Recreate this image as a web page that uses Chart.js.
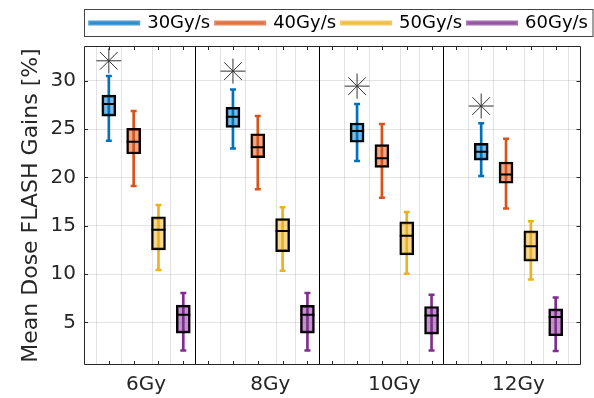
<!DOCTYPE html>
<html>
<head>
<meta charset="utf-8">
<script src="https://cdn.jsdelivr.net/npm/chart.js@4.4.1/dist/chart.umd.min.js"></script>
<style>
  html, body { margin: 0; padding: 0; background: #ffffff; }
  #wrap { width: 594px; height: 398px; position: relative; }
</style>
</head>
<body>
<div id="wrap"><canvas id="c" width="594" height="398"></canvas></div>
<script>
// ---------------- data ----------------
const categories = ['6Gy', '8Gy', '10Gy', '12Gy'];
const seriesNames = ['30Gy/s', '40Gy/s', '50Gy/s', '60Gy/s'];

// per category: [lower whisker, Q1, median, Q3, upper whisker]
const stats30 = [[23.8, 26.35, 27.6, 28.52, 30.49], [23.0, 25.18, 26.28, 27.25, 29.11], [21.7, 23.64, 24.8, 25.63, 27.6], [20.15, 21.8, 22.67, 23.53, 25.6]];
const stats40 = [[19.12, 22.43, 23.7, 25.08, 26.87], [18.78, 22.05, 23.12, 24.52, 26.35], [17.9, 21.05, 21.98, 23.4, 25.53], [16.78, 19.4, 20.3, 21.6, 24.0]];
const stats50 = [[10.44, 12.51, 14.58, 15.92, 17.16], [10.34, 12.33, 14.47, 15.74, 16.92], [10.03, 12.0, 13.96, 15.4, 16.44], [9.44, 11.34, 12.89, 14.47, 15.47]];
const stats60 = [[2.1, 3.9, 5.8, 6.8, 8.04], [2.1, 3.9, 5.8, 6.76, 8.04], [2.1, 3.8, 5.72, 6.65, 7.86], [2.05, 3.63, 5.56, 6.41, 7.58]];
// outliers (30Gy/s only), one per category
const outliers30 = [32.07, 31.0, 29.45, 27.39];

const yTickValues = [5, 10, 15, 20, 25, 30];

// ---------------- styling ----------------
const seriesStats = [stats30, stats40, stats50, stats60];
const lineColors = ['rgb(0,114,189)', 'rgb(217,83,25)', 'rgb(237,177,32)', 'rgb(126,47,142)'];
const fillColors = ['rgba(0,114,189,0.5)', 'rgba(217,83,25,0.5)', 'rgba(237,177,32,0.5)', 'rgba(126,47,142,0.5)'];
const legendColors = ['rgba(0,114,189,0.7)', 'rgba(217,83,25,0.7)', 'rgba(237,177,32,0.7)', 'rgba(126,47,142,0.7)'];
const groupSize = seriesNames.length + 1;   // 4 boxes + separator slot
const posOf = (ci, si) => ci * groupSize + si + 1;
const labelPos = categories.map((c, ci) => ci * groupSize + (seriesNames.length + 1) / 2);
const xMax = categories.length * groupSize;
const axisColor = '#262626';
const FONT = "'DejaVu Sans', sans-serif";

const datasets = [];
// top layer: outliers, medians, caps
datasets.push({
  type: 'scatter', label: 'outliers', showLine: false,
  data: outliers30.map((v, ci) => ({x: posOf(ci, 0), y: v})),
  pointStyle: 'star', radius: 12.5, borderColor: '#333333', borderWidth: 1, backgroundColor: '#333333'
});
seriesStats.forEach((st, si) => {
  datasets.push({
    type: 'scatter', label: 'med' + si, showLine: false,
    data: st.map((s, ci) => ({x: posOf(ci, si), y: s[2]})),
    pointStyle: 'line', radius: 7, borderColor: '#000000', borderWidth: 2
  });
  datasets.push({
    type: 'scatter', label: 'caps' + si, showLine: false,
    data: st.flatMap((s, ci) => [{x: posOf(ci, si), y: s[0]}, {x: posOf(ci, si), y: s[4]}]),
    pointStyle: 'line', radius: 3, borderColor: lineColors[si], borderWidth: 2.5
  });
});
// boxes
seriesStats.forEach((st, si) => {
  datasets.push({
    type: 'bar', label: 'box' + si, grouped: false,
    data: st.map((s, ci) => ({x: posOf(ci, si), y: [s[1], s[3]]})),
    backgroundColor: fillColors[si], borderColor: '#000000', borderWidth: 2,
    borderSkipped: false, barThickness: 14
  });
});
// whiskers
seriesStats.forEach((st, si) => {
  datasets.push({
    type: 'bar', label: 'whisk' + si, grouped: false,
    data: st.map((s, ci) => ({x: posOf(ci, si), y: [s[0], s[4]]})),
    backgroundColor: lineColors[si], borderWidth: 0, barThickness: 2
  });
});

const framePlugin = {
  id: 'frame',
  afterDraw(chart) {
    const ctx = chart.ctx, a = chart.chartArea;
    const xs = chart.scales.x, ys = chart.scales.y;
    ctx.save();
    ctx.strokeStyle = axisColor;
    ctx.lineWidth = 1;
    ctx.beginPath();
    ctx.rect(Math.round(a.left) + 0.5, Math.round(a.top) + 0.5, Math.round(a.right - a.left) - 1, Math.round(a.bottom - a.top) - 1);
    ctx.stroke();
    // inward ticks
    const tl = 4;
    ctx.beginPath();
    for (let v = 1; v < xMax; v++) {
      const px = Math.round(xs.getPixelForValue(v)) + 0.5;
      ctx.moveTo(px, a.bottom); ctx.lineTo(px, a.bottom - tl);
      ctx.moveTo(px, a.top); ctx.lineTo(px, a.top + tl);
    }
    yTickValues.forEach(v => {
      const py = Math.round(ys.getPixelForValue(v)) + 0.5;
      ctx.moveTo(a.left, py); ctx.lineTo(a.left + tl, py);
      ctx.moveTo(a.right, py); ctx.lineTo(a.right - tl, py);
    });
    ctx.stroke();
    // legend frame
    const hb = chart.legend.legendHitBoxes;
    if (hb && hb.length) {
      const l = Math.min(...hb.map(h => h.left)) - 6;
      const t = Math.min(...hb.map(h => h.top)) - 5;
      const b = Math.max(...hb.map(h => h.top + h.height)) + 4;
      ctx.strokeStyle = '#444444';
      ctx.strokeRect(Math.round(l) + 0.5, Math.round(t) + 0.5, chart.width - 1 - Math.round(l) - 0.5, Math.round(b - t));
    }
    ctx.restore();
  }
};

new Chart(document.getElementById('c'), {
  type: 'bar',
  data: { datasets },
  plugins: [framePlugin],
  options: {
    responsive: false, animation: false, events: [],
    layout: { padding: { left: 14, right: 0, top: 8, bottom: 0 } },
    plugins: {
      tooltip: { enabled: false },
      legend: {
        position: 'top', align: 'end',
        labels: {
          boxWidth: 48, boxHeight: 1, padding: 6, color: '#000000',
          font: { family: FONT, size: 18 },
          generateLabels: () => seriesNames.map((n, i) => ({
            text: n, fillStyle: legendColors[i], strokeStyle: legendColors[i], lineWidth: 4, hidden: false, datasetIndex: i
          }))
        }
      }
    },
    scales: {
      x: {
        type: 'linear', min: 0, max: xMax, offset: false,
        afterBuildTicks: (s) => {
          const vals = [];
          for (let v = 0; v <= xMax; v++) vals.push(v);
          labelPos.forEach(v => vals.push(v));
          vals.sort((p, q) => p - q);
          s.ticks = vals.map(v => ({value: v}));
        },
        afterFit: (s) => { s.height = 33; },
        ticks: {
          autoSkip: false, maxRotation: 0, padding: 8, color: axisColor,
          font: { family: FONT, size: 20 },
          callback: (v) => { const i = labelPos.indexOf(v); return i >= 0 ? categories[i] : ''; }
        },
        grid: {
          drawTicks: false,
          color: (c) => {
            const v = c.tick ? c.tick.value : 0;
            if (!Number.isInteger(v)) return 'rgba(0,0,0,0)';
            if (v > 0 && v < xMax && v % groupSize === 0) return '#000000';
            return 'rgba(38,38,38,0.13)';
          }
        },
        border: { display: false }
      },
      xTop: {
        type: 'linear', position: 'top', min: 0, max: xMax,
        grid: { display: false, drawTicks: false }, ticks: { display: false },
        border: { display: false },
        afterFit: (s) => { s.height = 4; }
      },
      y: {
        min: 0.6, max: 33.6,
        afterBuildTicks: (s) => { s.ticks = yTickValues.map(v => ({value: v})); },
        afterFit: (s) => { s.width = 70; },
        ticks: { padding: 8, color: axisColor, font: { family: FONT, size: 20 } },
        grid: { drawTicks: false, color: 'rgba(38,38,38,0.13)' },
        border: { display: false },
        title: { display: true, text: 'Mean Dose FLASH Gains [%]', color: axisColor, font: { family: FONT, size: 22 } }
      }
    }
  }
});
</script>
</body>
</html>
